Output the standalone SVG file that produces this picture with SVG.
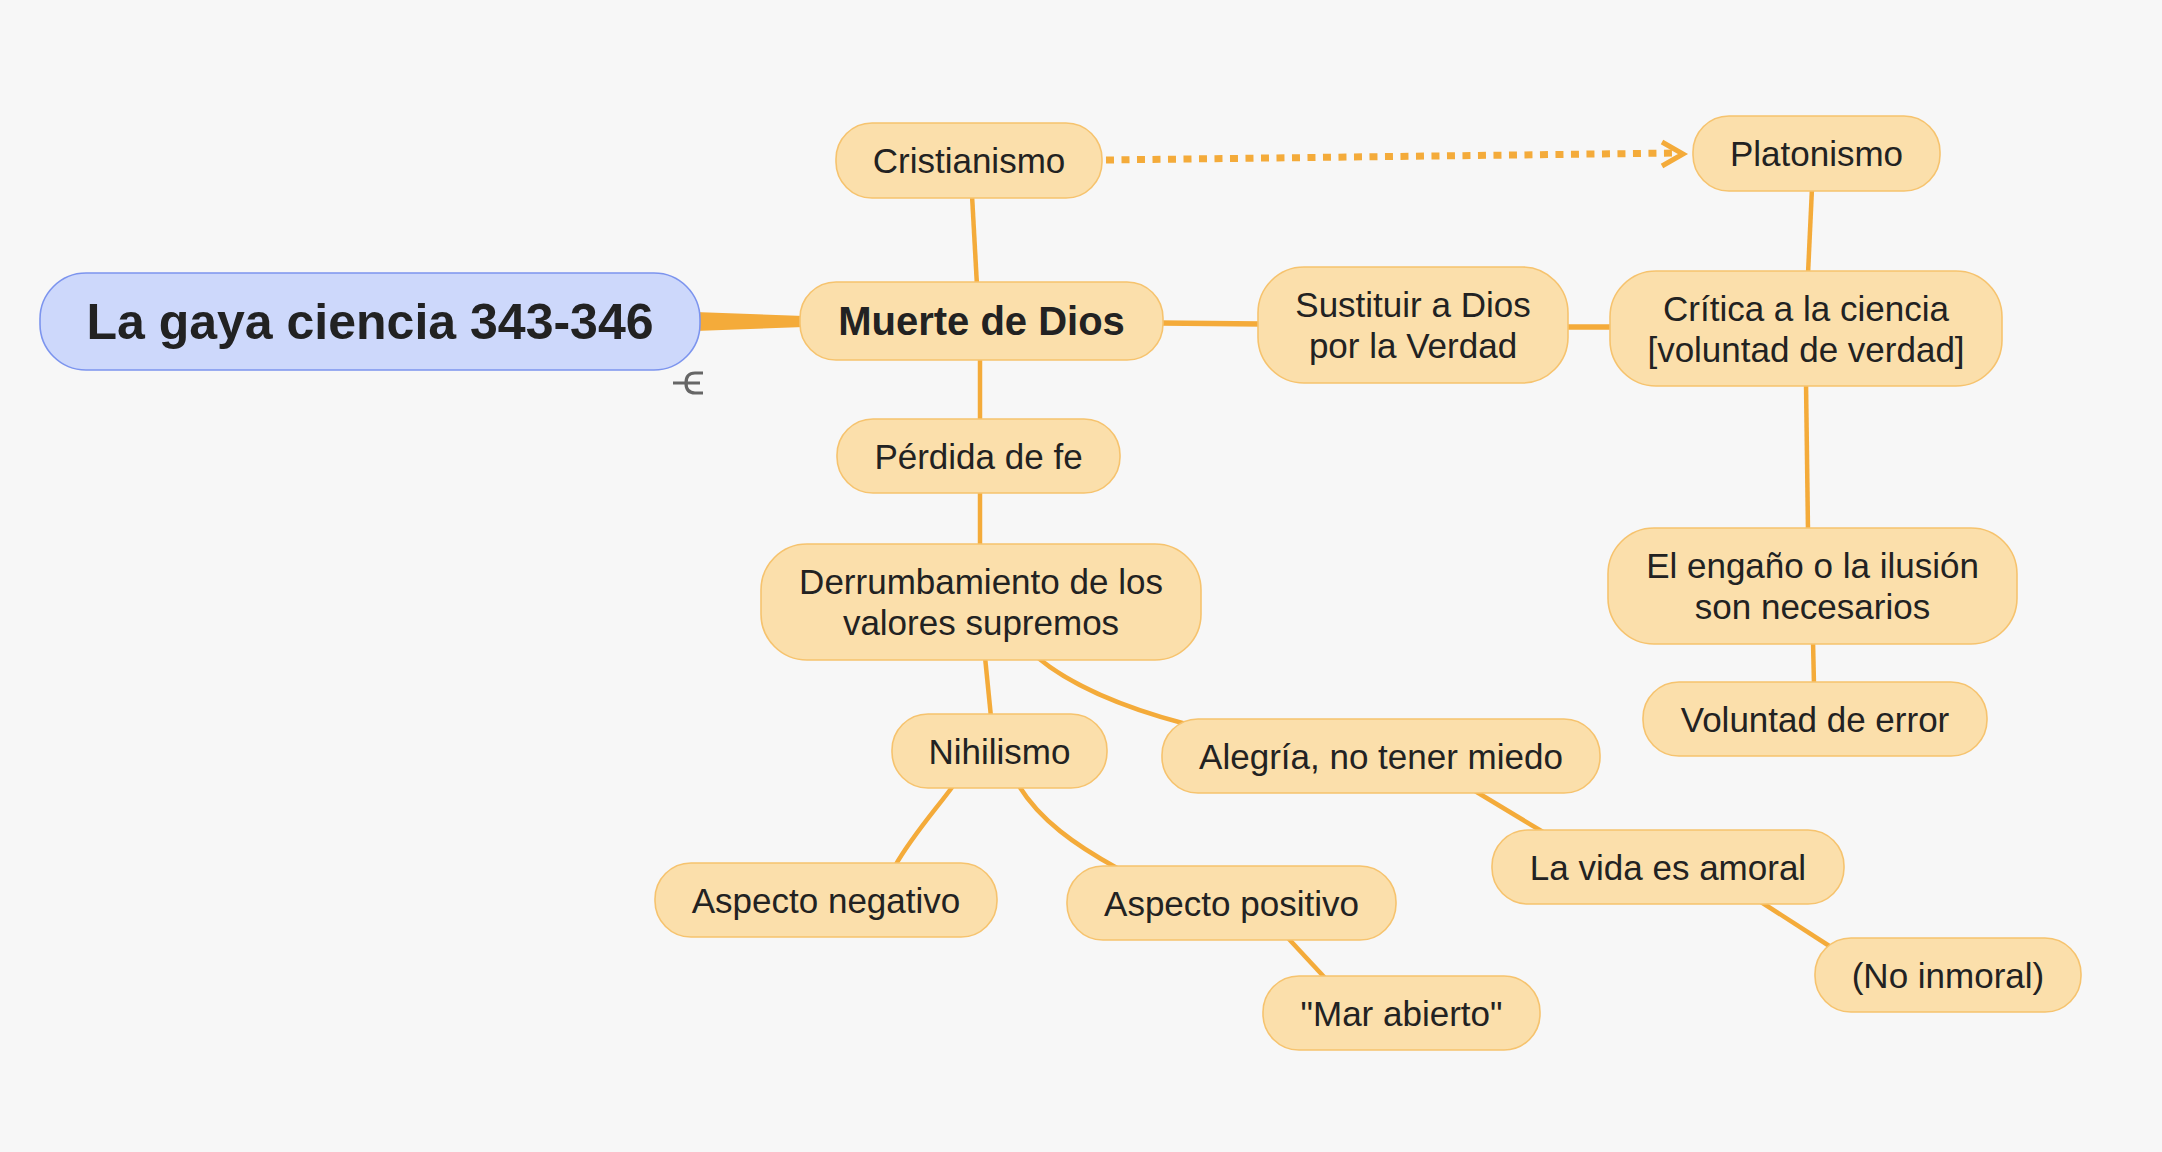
<svg xmlns="http://www.w3.org/2000/svg" width="2162" height="1152" viewBox="0 0 2162 1152">
<style>
.bg{fill:#f7f7f7}
.n rect{fill:#fbdfab;stroke:#f6c36e;stroke-width:1.6}
.root rect{fill:#cdd8fb;stroke:#7c94ee;stroke-width:1.6}
text{font-family:"Liberation Sans",Arial,Helvetica,sans-serif;fill:#222;text-anchor:middle}
.t{font-size:35px}
.b{font-size:40px;font-weight:bold}
.r{font-size:50px;font-weight:bold}
.c{fill:none;stroke:#f4ab3a;stroke-width:4.5;stroke-linecap:butt}
.w{stroke-width:5.5}
.d{fill:none;stroke:#f4ab3a;stroke-width:7;stroke-dasharray:8 7.5}
.ah{fill:none;stroke:#f4ab3a;stroke-width:5}
.icon{fill:none;stroke:#666;stroke-width:3.2}
</style>
<rect class="bg" x="0" y="0" width="2162" height="1152"/>
<g id="connectors">
<polygon points="695,312 804,316 804,327 695,331" fill="#f4ab3a"/>
<path class="c" d="M972,195 L977,286"/>
<path class="c w" d="M1160,323 L1261,324"/>
<path class="c w" d="M1565,327 L1613,327"/>
<path class="c" d="M1812,188 L1808,274"/>
<path class="c" d="M980,357 L980,422"/>
<path class="c" d="M980,490 L980,547"/>
<path class="c" d="M985,657 L991,717"/>
<path class="c" d="M1037,657 C1070,685 1125,708 1186,724"/>
<path class="c" d="M953,786 C937,808 912,836 895,866"/>
<path class="c" d="M1019,786 C1040,820 1075,845 1117,868"/>
<path class="c" d="M1287,937 L1326,979"/>
<path class="c" d="M1475,791 L1543,832"/>
<path class="c" d="M1761,902 L1834,949"/>
<path class="c" d="M1806,383 L1808,531"/>
<path class="c" d="M1813,641 L1814,685"/>
<path class="d" d="M1106,160 L1678,153"/>
<path class="ah" d="M1662,142 L1683,154 L1662,166"/>
</g>
<g id="root" class="root"><rect x="40" y="273" width="660" height="97" rx="46"/><text class="r" x="370" y="339">La gaya ciencia 343-346</text></g>
<g id="collapse-icon"><path class="icon" d="M673,383 L700,383 M703,373 L695,373 Q686,373 686,383 Q686,393 695,393 L703,393"/></g>
<g id="muerte" class="n"><rect x="800" y="282" width="363" height="78" rx="36"/><text class="b" x="981.5" y="335">Muerte de Dios</text></g>
<g id="cristianismo" class="n"><rect x="836" y="123" width="266" height="75" rx="36"/><text class="t" x="969" y="173">Cristianismo</text></g>
<g id="platonismo" class="n"><rect x="1693" y="116" width="247" height="75" rx="36"/><text class="t" x="1816.5" y="166">Platonismo</text></g>
<g id="sustituir" class="n"><rect x="1258" y="267" width="310" height="116" rx="46"/><text class="t" x="1413" y="317">Sustituir a Dios</text><text class="t" x="1413" y="358">por la Verdad</text></g>
<g id="critica" class="n"><rect x="1610" y="271" width="392" height="115" rx="46"/><text class="t" x="1806" y="321">Crítica a la ciencia</text><text class="t" x="1806" y="362">[voluntad de verdad]</text></g>
<g id="perdida" class="n"><rect x="837" y="419" width="283" height="74" rx="36"/><text class="t" x="978.5" y="468.5">Pérdida de fe</text></g>
<g id="derrumbamiento" class="n"><rect x="761" y="544" width="440" height="116" rx="46"/><text class="t" x="981" y="594">Derrumbamiento de los</text><text class="t" x="981" y="635">valores supremos</text></g>
<g id="nihilismo" class="n"><rect x="892" y="714" width="215" height="74" rx="36"/><text class="t" x="999.5" y="763.5">Nihilismo</text></g>
<g id="alegria" class="n"><rect x="1162" y="719" width="438" height="74" rx="36"/><text class="t" x="1381" y="768.5">Alegría, no tener miedo</text></g>
<g id="engano" class="n"><rect x="1608" y="528" width="409" height="116" rx="46"/><text class="t" x="1812.5" y="578">El engaño o la ilusión</text><text class="t" x="1812.5" y="619">son necesarios</text></g>
<g id="voluntad" class="n"><rect x="1643" y="682" width="344" height="74" rx="36"/><text class="t" x="1815" y="731.5">Voluntad de error</text></g>
<g id="negativo" class="n"><rect x="655" y="863" width="342" height="74" rx="36"/><text class="t" x="826" y="912.5">Aspecto negativo</text></g>
<g id="positivo" class="n"><rect x="1067" y="866" width="329" height="74" rx="36"/><text class="t" x="1231.5" y="915.5">Aspecto positivo</text></g>
<g id="mar" class="n"><rect x="1263" y="976" width="277" height="74" rx="36"/><text class="t" x="1401.5" y="1025.5">"Mar abierto"</text></g>
<g id="lavida" class="n"><rect x="1492" y="830" width="352" height="74" rx="36"/><text class="t" x="1668" y="879.5">La vida es amoral</text></g>
<g id="noinmoral" class="n"><rect x="1815" y="938" width="266" height="74" rx="36"/><text class="t" x="1948" y="987.5">(No inmoral)</text></g>
</svg>
